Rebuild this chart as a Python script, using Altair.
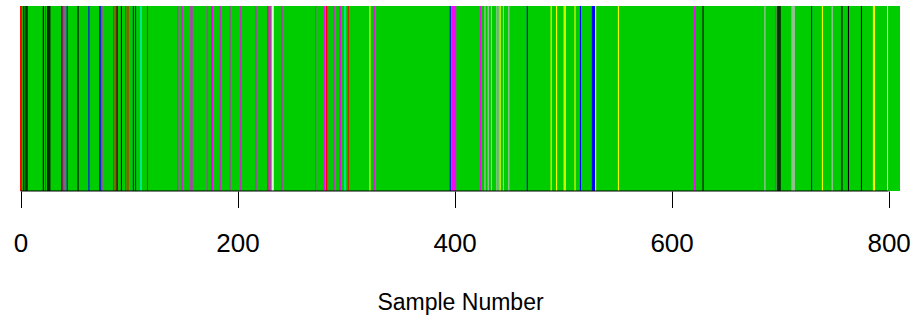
import altair as alt
import pandas as pd

# ---- data ----
n_samples = 811          # samples 0 .. 810
tick_values = [0, 200, 400, 600, 800]
x_title = "Sample Number"

red_samples = [0, 1, 23, 39, 86, 88, 97, 99, 117, 228, 282, 302]
black_samples = [3, 5, 6, 21, 25, 26, 27, 53, 89, 93, 629, 698, 699, 700, 757, 763, 775]
blue_samples = [38, 43, 63, 73, 74, 104, 106, 396, 467, 516, 527, 528, 529, 729]
magenta_samples = [41, 75, 145, 149, 157, 158, 172, 176, 177, 184, 193, 203, 217,
                   229, 230, 241, 272, 280, 283, 289, 294, 295, 326, 398, 399, 400,
                   401, 424, 621, 622, 696]
cyan_samples = [111, 299]
yellow_samples = [233, 322, 442, 489, 494, 501, 502, 511, 530, 551, 739, 786, 787, 799]
white_samples = [232]
gray_samples = [428, 431, 434, 439, 441, 445, 450, 686, 711, 712, 713, 748]

class_names = ["black", "red", "green3", "blue", "cyan", "magenta", "yellow", "gray", "white"]
class_colors = ["#000000", "#FF0000", "#00CD00", "#0000FF", "#00FFFF", "#FF00FF",
                "#FFFF00", "#BEBEBE", "#FFFFFF"]

groups = {
    "red": red_samples, "black": black_samples, "blue": blue_samples,
    "magenta": magenta_samples, "cyan": cyan_samples, "yellow": yellow_samples,
    "white": white_samples, "gray": gray_samples,
}
rows = []
for cls, lst in groups.items():
    for s in lst:
        rows.append({"sample": s, "cls": cls})
stripes = pd.DataFrame(rows)
stripes["x0"] = stripes["sample"] - 0.5
stripes["x1"] = stripes["sample"] + 0.5

background = pd.DataFrame({"x0": [-0.5], "x1": [n_samples - 0.5], "cls": ["green3"]})
axis_line = pd.DataFrame({"x0": [tick_values[0]], "x1": [tick_values[-1]]})

W, H = 880, 185
FONT = "Liberation Sans"

xscale = alt.Scale(domain=[-0.5, n_samples - 0.5], nice=False, zero=False)
xaxis = alt.Axis(
    values=tick_values, domain=False, grid=False, ticks=True, tickSize=16.5,
    tickColor="black", tickWidth=1, labelFont=FONT, labelFontSize=26,
    labelColor="black", labelBaseline="alphabetic", labelPadding=43.5,
    labelFlush=False, labelOverlap=False,
    title=x_title, titleFont=FONT, titleFontSize=23, titleFontWeight="normal",
    titleColor="black", titleBaseline="alphabetic", titleY=118,
)
color_scale = alt.Scale(domain=class_names, range=class_colors)

bg_layer = alt.Chart(background).mark_rect(strokeWidth=0).encode(
    x=alt.X("x0:Q", scale=xscale, axis=xaxis),
    x2="x1:Q",
    y=alt.value(0), y2=alt.value(H),
    color=alt.Color("cls:N", scale=color_scale, legend=None),
)
stripe_layer = alt.Chart(stripes).mark_rect(strokeWidth=0).encode(
    x=alt.X("x0:Q", scale=xscale, axis=xaxis),
    x2="x1:Q",
    y=alt.value(0), y2=alt.value(H),
    color=alt.Color("cls:N", scale=color_scale, legend=None),
)
rule_layer = alt.Chart(axis_line).mark_rule(color="black", strokeWidth=1).encode(
    x=alt.X("x0:Q", scale=xscale, axis=xaxis),
    x2="x1:Q",
    y=alt.value(H),
)

chart = alt.layer(bg_layer, stripe_layer, rule_layer).properties(
    width=W, height=H,
    autosize=alt.AutoSizeParams(type="none"),
    padding={"left": 20, "top": 6, "right": 17, "bottom": 136},
    background="white",
).configure_view(stroke=None)

chart.save("out.html", embed_options={"renderer": "svg", "actions": False})
